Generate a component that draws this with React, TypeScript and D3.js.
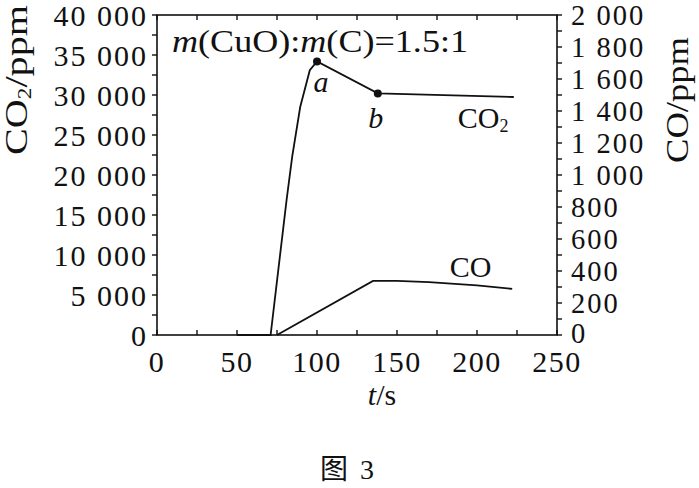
import * as d3 from "d3";

// CO2 curve (left axis, ppm) vs time (s)
const co2Time = [50, 71, 81, 84.5, 89.5, 95.5, 100, 138, 223];
const co2Values = [0, 0, 16900, 22300, 28500, 33100, 34200, 30200, 29750];
// CO curve (right axis, ppm)
const coTime = [75, 135, 150, 170, 200, 222];
const coValues = [0, 338, 338, 330, 310, 288];

const xTicks = [0, 50, 100, 150, 200, 250];
const leftTicks = [0, 5000, 10000, 15000, 20000, 25000, 30000, 35000, 40000];
const rightTicks = [0, 200, 400, 600, 800, 1000, 1200, 1400, 1600, 1800, 2000];
// labelled points on the CO2 curve: [index into co2 arrays, label]
const markedPoints: [number, string][] = [[6, "a"], [7, "b"]];

const W = 699;
const H = 488;
const L = 157, R = 557, T = 15, B = 335;
const serif = "'Liberation Serif', 'DejaVu Serif', serif";

const fmt = (v: number) => (v >= 1000 ? d3.format(",")(v).replace(",", " ") : String(v));

export default function App() {
  const x = d3.scaleLinear().domain([0, 250]).range([L, R]);
  const yL = d3.scaleLinear().domain([0, 40000]).range([B, T]);
  const yR = d3.scaleLinear().domain([0, 2000]).range([B, T]);

  const co2Line = d3.line<number>().x((_, i) => x(co2Time[i])).y((d) => yL(d));
  const coLine = d3.line<number>().x((_, i) => x(coTime[i])).y((d) => yR(d));

  const xMinor = d3.range(0, 251, 25);
  const lMinor = d3.range(0, 40001, 2500);
  const rMinor = d3.range(0, 2001, 100);

  return (
    <svg
      width={W}
      height={H}
      style={{ position: "absolute", left: 0, top: 0, background: "#fff" }}
      fontFamily={serif}
      fill="#111"
    >
      {/* frame */}
      <rect x={L} y={T} width={R - L} height={B - T} fill="none" stroke="#111" strokeWidth={1.6} />

      {/* bottom / top ticks (inward) */}
      {xMinor.map((t) => (
        <g key={"xt" + t} stroke="#111" strokeWidth={1.4}>
          <line x1={x(t)} x2={x(t)} y1={B} y2={B - 5} />
          <line x1={x(t)} x2={x(t)} y1={T} y2={T + 5} />
        </g>
      ))}
      {xTicks.map((t) => (
        <text key={"xl" + t} x={x(t)} y={372} fontSize={30} textAnchor="middle" letterSpacing={1.5}>
          {fmt(t)}
        </text>
      ))}

      {/* left ticks (outward) */}
      {lMinor.map((v) => (
        <line key={"lt" + v} x1={L - 5} x2={L} y1={yL(v)} y2={yL(v)} stroke="#111" strokeWidth={1.4} />
      ))}
      {leftTicks.map((v) => (
        <text key={"ll" + v} x={148} y={yL(v)} dy="0.35em" fontSize={30} textAnchor="end" letterSpacing={2}>
          {fmt(v)}
        </text>
      ))}

      {/* right ticks (outward) */}
      {rMinor.map((v) => (
        <line key={"rt" + v} x1={R} x2={R + 5} y1={yR(v)} y2={yR(v)} stroke="#111" strokeWidth={1.4} />
      ))}
      {rightTicks.map((v) => (
        <text
          key={"rl" + v}
          x={571}
          y={yR(v) - (v === 0 ? 2 : 0)}
          dy="0.35em"
          fontSize={28.5}
          textAnchor="start"
          letterSpacing={2}
        >
          {fmt(v)}
        </text>
      ))}

      {/* curves */}
      <path d={co2Line(co2Values) ?? ""} fill="none" stroke="#111" strokeWidth={1.8} />
      <path d={coLine(coValues) ?? ""} fill="none" stroke="#111" strokeWidth={1.8} />

      {markedPoints.map(([i, lab], k) => (
        <g key={lab}>
          <circle cx={x(co2Time[i])} cy={yL(co2Values[i])} r={4} fill="#111" />
          <text
            x={x(co2Time[i]) + (k === 0 ? 4 : -2)}
            y={yL(co2Values[i]) + (k === 0 ? 31 : 35)}
            fontSize={30}
            fontStyle="italic"
            textAnchor="middle"
          >
            {lab}
          </text>
        </g>
      ))}

      {/* series labels */}
      <text x={x(188)} y={128} fontSize={30}>
        CO<tspan fontSize={18} dy={4}>2</tspan>
      </text>
      <text x={x(183)} y={277} fontSize={30}>CO</text>

      {/* condition */}
      <text x={172} y={52} fontSize={31} textLength={296} lengthAdjust="spacingAndGlyphs">
        <tspan fontStyle="italic">m</tspan>(CuO):<tspan fontStyle="italic">m</tspan>(C)=1.5:1
      </text>

      {/* axis titles */}
      <text
        transform="translate(27,80) rotate(-90)"
        fontSize={31}
        textAnchor="middle"
        textLength={150}
        lengthAdjust="spacingAndGlyphs"
      >
        CO<tspan fontSize={18} dy={4}>2</tspan>
        <tspan dy={-4}>/ppm</tspan>
      </text>
      <text
        transform="translate(688,100) rotate(-90)"
        fontSize={31}
        textAnchor="middle"
        textLength={126}
        lengthAdjust="spacingAndGlyphs"
      >
        CO/ppm
      </text>
      <text x={382} y={405} fontSize={30} textAnchor="middle">
        <tspan fontStyle="italic">t</tspan>/s
      </text>

      {/* caption */}
      <text x={320} y={479} fontSize={28}>
        <tspan fontFamily="'Noto Sans CJK SC', sans-serif">图</tspan>
        <tspan dx={12}>3</tspan>
      </text>
    </svg>
  );
}
